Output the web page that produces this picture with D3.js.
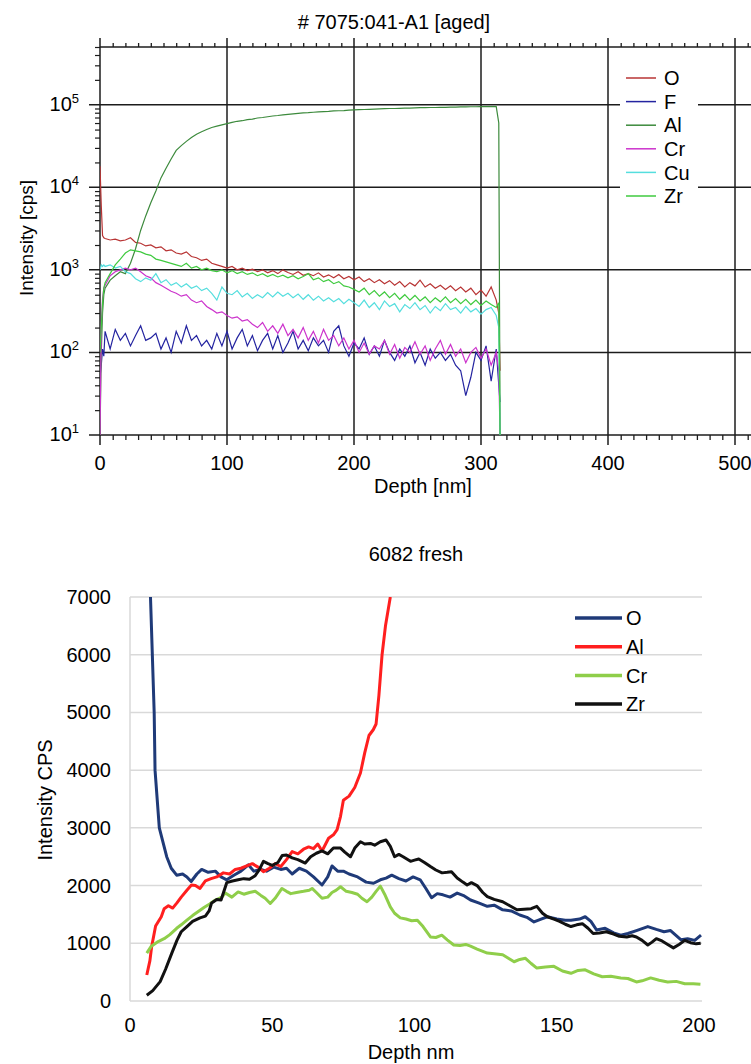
<!DOCTYPE html>
<html>
<head>
<meta charset="utf-8">
<script src="https://cdn.jsdelivr.net/npm/d3@7"></script>
<style>
  body { margin: 0; background: #fff; }
  svg { display: block; font-family: "Liberation Sans", Arial, sans-serif; }
</style>
</head>
<body>
<svg id="chart" width="751" height="1064"></svg>
<script>
// ---------- top chart: 7075 aged (log intensity vs depth) ----------
var topDepth = [0, 1, 2, 3,
  4, 8, 12, 16, 20, 24, 28, 32, 36, 40, 44, 48, 52, 56, 60, 64, 68, 72, 76, 80,
  84, 88, 92, 96, 100, 104, 108, 112, 116, 120, 124, 128, 132, 136, 140, 144, 148, 152, 156, 160,
  164, 168, 172, 176, 180, 184, 188, 192, 196, 200, 204, 208, 212, 216, 220, 224, 228, 232, 236, 240,
  244, 248, 252, 256, 260, 264, 268, 272, 276, 280, 284, 288, 292, 296, 300, 304, 308, 312,
  314, 315];

var topO = [18000, 6000, 2600, 2450,
  2400, 2300, 2350, 2250, 2300, 2450, 2150, 2100, 1950, 2000, 1850, 1900, 1700, 1750, 1600, 1550, 1650, 1450, 1400, 1300,
  1350, 1200, 1150, 1100, 1050, 1100, 1000, 1050, 980, 1020, 950, 1000, 920, 980, 900, 1000, 930, 880, 950, 860,
  900, 850, 920, 820, 870, 800, 880, 780, 830, 760, 820, 720, 780, 700, 760, 680, 740, 650, 720, 620,
  700, 640, 750, 620, 680, 600, 650, 580, 640, 560, 620, 540, 600, 500, 570, 480, 620, 430,
  300, 60];

var topF = [50, 70, 110, 90,
  180, 110, 190, 140, 170, 120, 160, 210, 140, 150, 170, 110, 150, 100, 180, 130, 210, 140, 160, 120,
  140, 110, 170, 120, 180, 110, 150, 190, 120, 160, 105, 140, 170, 110, 160, 100, 130, 180, 110, 140,
  105, 150, 120, 140, 100, 180, 210, 120, 90, 130, 110, 150, 95, 120, 90, 140, 100, 80, 110, 90,
  120, 75, 100, 70, 110, 85, 100, 80, 95, 70, 60, 30, 50, 100, 80, 120, 45, 110,
  40, 25];

var topAl = [10, 100, 300, 500,
  600, 750, 850, 950, 900, 1200, 1800, 3000, 4500, 6500, 9000, 13000, 17000, 22000, 28000, 32000, 36000, 40000, 44000, 47000,
  50000, 53000, 55000, 57000, 59000, 61000, 63000, 64000, 66000, 67000, 69000, 70000, 71500, 73000, 74000, 75500, 76500, 77500, 78500, 79500,
  80000, 81000, 82000, 82500, 83000, 84000, 84500, 85000, 86000, 86500, 87000, 87500, 88000, 88500, 89000, 89500, 90000, 90000, 90500, 91000,
  91000, 91500, 92000, 92000, 92500, 92500, 93000, 93000, 93500, 93500, 94000, 94000, 94500, 94500, 95000, 95000, 95000, 95000,
  60000, 10];

var topCr = [10, 200, 450, 600,
  650, 850, 950, 1000, 1050, 1000, 1050, 950, 850, 800, 700, 650, 600, 550, 520, 480, 500, 430, 400, 420,
  360, 330, 300, 310, 280, 260, 270, 240, 250, 220, 200, 230, 180, 210, 170, 220, 160, 190, 150, 200,
  140, 180, 130, 190, 140, 160, 120, 150, 110, 140, 100, 130, 95, 120, 110, 140, 95, 125, 85, 115,
  100, 135, 95, 120, 80, 110, 140, 95, 125, 90, 110, 75, 100, 115, 85, 110, 70, 100,
  60, 10];

var topCu = [1000, 1150, 1100, 1150,
  1100, 1150, 1050, 1100, 950, 900, 780, 720, 800, 750, 900, 700, 760, 650, 700, 620, 680, 600, 640, 560,
  600, 520, 430, 620, 520, 500, 560, 470, 520, 450, 500, 460, 530, 470, 540, 480, 520, 460, 510, 440,
  500, 430, 480, 420, 460, 410, 450, 390, 440, 400, 360, 430, 350, 400, 330, 420, 360, 390, 310, 380,
  340, 400, 330, 370, 300, 360, 320, 390, 330, 350, 300, 360, 310, 340, 290, 330, 350, 280,
  200, 10];

var topZr = [100, 200, 400, 600,
  700, 900, 1150, 1350, 1600, 1750, 1700, 1650, 1550, 1500, 1350, 1300, 1250, 1200, 1150, 1100, 1200, 1050, 1100, 1000,
  1050, 980, 950, 1000, 920, 980, 900, 950, 880, 920, 850, 900, 830, 880, 820, 860, 800, 850, 780, 830,
  900, 760, 800, 720, 760, 680, 720, 640, 620, 580, 540, 600, 500, 560, 480, 540, 460, 520, 440, 500,
  430, 490, 420, 470, 400, 460, 410, 470, 400, 450, 390, 440, 380, 430, 370, 420, 380, 350,
  400, 10];

var topSeries = [
  {name: "O",  values: topO,  color: "#b83434"},
  {name: "F",  values: topF,  color: "#2424a0"},
  {name: "Al", values: topAl, color: "#3c8a3c"},
  {name: "Cr", values: topCr, color: "#cc33cc"},
  {name: "Cu", values: topCu, color: "#55dede"},
  {name: "Zr", values: topZr, color: "#3fca3f"}
];

// ---------- bottom chart: 6082 fresh (linear intensity vs depth) ----------
var botODepth = [7.2, 8.5, 8.8, 10.3, 12.9, 14.5, 16.4, 18.5, 20, 21.5, 23.5, 25.2, 27.5, 30, 32, 34, 36.5, 39, 41.6, 43.5,
  46, 48, 50.5, 53, 55, 57, 59.5, 62, 64.5, 67.5, 69.5, 71, 73, 75, 77, 80, 83, 85.6, 88, 90,
  92, 94.5, 97, 99.5, 102, 104, 106, 108, 110, 112.5, 115, 117.5, 119.7, 122.5, 125.6, 128, 131, 134, 137, 139.5,
  142, 144.5, 146.7, 150, 153, 155, 158, 160, 162, 164, 167, 170, 172.5, 175, 178, 182, 185, 187.7, 190, 193.7,
  196, 198.5, 200.7];
var botO = [7000, 5000, 4000, 3000, 2500, 2300, 2180, 2200, 2150, 2070, 2200, 2280, 2230, 2250, 2150, 2100, 2180, 2250, 2360, 2250,
  2280, 2250, 2320, 2280, 2300, 2200, 2300, 2250, 2150, 2010, 2150, 2340, 2250, 2250, 2200, 2150, 2060, 2040, 2100, 2130,
  2180, 2120, 2080, 2150, 2100, 1950, 1790, 1860, 1840, 1800, 1870, 1820, 1750, 1700, 1640, 1660, 1580, 1560, 1490, 1450,
  1370, 1420, 1460, 1420, 1400, 1400, 1420, 1460, 1380, 1230, 1260, 1180, 1140, 1170, 1220, 1290, 1240, 1200, 1220, 1060,
  1080, 1050, 1140];

var botAlDepth = [5.9, 7, 7.6, 9, 11, 12, 13.5, 15, 16.5, 18, 20, 21.6, 23, 24.6, 26.5, 28.5, 30.5, 32.8, 35, 37,
  39, 41, 43, 45, 46.9, 49, 51, 53, 55, 57, 59, 61, 62.8, 64.5, 66, 67.5, 69.8, 71.5, 72.8, 74,
  75, 77, 79, 81, 82.5, 84, 85.5, 86.5, 87.5, 88.6, 89.8, 91.5];
var botAl = [450, 700, 940, 1300, 1460, 1600, 1650, 1610, 1700, 1800, 1920, 2010, 2000, 1950, 2080, 2120, 2150, 2220, 2200, 2280,
  2300, 2340, 2380, 2320, 2240, 2300, 2380, 2330, 2450, 2590, 2550, 2630, 2670, 2640, 2720, 2600, 2820, 2880, 2970, 3200,
  3480, 3550, 3700, 3950, 4300, 4600, 4700, 4800, 5300, 6000, 6500, 7000];

var botCrDepth = [5.9, 7.5, 9.9, 12, 14, 16.4, 18, 20, 22, 24, 26, 28, 30, 32.3, 33.5, 35.8, 38, 40, 42, 44,
  46, 47.5, 49.3, 51, 53.4, 55, 56.5, 58.5, 61, 63, 64, 65.5, 67.5, 69.5, 71, 72.5, 74, 76, 78, 80,
  81.5, 83.3, 85, 86.5, 88, 89.5, 91.5, 93, 95, 97, 99, 101, 103, 105.6, 107.5, 109.6, 111.5, 113.8, 116, 118,
  119.7, 122, 125.6, 128, 131, 133, 135, 137, 139, 141, 143, 146, 149, 152, 155, 157.5, 160, 163, 166, 169,
  172.5, 175, 178, 180, 183, 186, 189, 192, 195, 198, 200.5];
var botCr = [830, 950, 1030, 1080, 1150, 1260, 1320, 1400, 1480, 1550, 1620, 1680, 1750, 1800, 1870, 1800, 1890, 1850, 1880, 1900,
  1830, 1780, 1690, 1780, 1950, 1900, 1860, 1880, 1900, 1920, 1950, 1880, 1780, 1800, 1880, 1920, 1980, 1900, 1880, 1850,
  1780, 1720, 1800, 1900, 1990, 1850, 1630, 1520, 1440, 1420, 1390, 1400, 1290, 1110, 1100, 1140, 1060, 970, 960, 980,
  950, 900, 830, 820, 800, 740, 680, 720, 740, 650, 570, 590, 600, 520, 480, 530, 540, 470, 420, 430,
  400, 390, 330, 350, 400, 360, 330, 340, 300, 300, 290];

var botZrDepth = [5.9, 8, 10.6, 12.5, 14.7, 16.5, 18, 20, 22, 24.6, 26.5, 27.8, 28.7, 30.5, 32, 34, 36, 38, 40, 42,
  44, 45.5, 46.9, 48.5, 50, 52, 53.5, 55, 57, 59, 61.6, 63.5, 65.5, 67.5, 69.5, 71.5, 74, 75.5, 77.5, 79,
  81, 82.5, 84.5, 86, 88, 90, 91.5, 93, 94.5, 96, 98.6, 100, 101.5, 103.5, 105.6, 107.5, 109.7, 111.5, 113, 115,
  117, 118.5, 120, 122, 124, 125.6, 128, 131, 133.5, 136, 138.5, 141, 143, 145, 146.7, 149, 151, 153, 155, 157,
  159, 161, 162.8, 165, 167.4, 170, 172, 174.6, 176.5, 178, 180, 182, 183.5, 185, 187, 189, 191, 193, 195, 197,
  199, 200.6];
var botZr = [100, 180, 335, 550, 830, 1050, 1200, 1290, 1380, 1440, 1470, 1560, 1700, 1760, 1750, 2050, 2080, 2100, 2120, 2110,
  2170, 2280, 2420, 2380, 2350, 2400, 2520, 2530, 2480, 2450, 2390, 2500, 2560, 2600, 2550, 2650, 2650, 2580, 2500, 2650,
  2760, 2720, 2730, 2700, 2760, 2790, 2680, 2500, 2540, 2500, 2420, 2440, 2460, 2400, 2330, 2270, 2220, 2230, 2240, 2130,
  2060, 2010, 2050, 2000, 1880, 1810, 1760, 1720, 1650, 1580, 1590, 1600, 1640, 1520, 1460, 1420, 1380, 1330, 1290, 1320,
  1340, 1260, 1170, 1180, 1200, 1160, 1120, 1110, 1130, 1110, 1050, 970, 1020, 1080, 1040, 980, 920, 980, 1050, 1010,
  990, 1000];

var botSeries = [
  {name: "O",  depth: botODepth,  values: botO,  color: "#1f3a78"},
  {name: "Al", depth: botAlDepth, values: botAl, color: "#ff1f1f"},
  {name: "Cr", depth: botCrDepth, values: botCr, color: "#8fce4a"},
  {name: "Zr", depth: botZrDepth, values: botZr, color: "#111111"}
];

var topXTicks = [0, 100, 200, 300, 400, 500];
var topYTicks = [10, 100, 1000, 10000, 100000];
var botXTicks = [0, 50, 100, 150, 200];
var botYTicks = [0, 1000, 2000, 3000, 4000, 5000, 6000, 7000];

var svg = d3.select("#chart");
var ink = "#1c1c1c";

// ===== top chart =====
var gTop = svg.append("g");
var tx = d3.scaleLinear().domain([0, 500]).range([100, 735]);
var ty = d3.scaleLog().domain([10, 500000]).range([435, 47]);
var tRight = 751;

gTop.append("text")
  .attr("x", 394).attr("y", 29)
  .attr("text-anchor", "middle").style("font-size", "20px")
  .text("# 7075:041-A1 [aged]");

// minor ticks top / bottom (every 10 nm)
var minorX = d3.range(10, 520, 10).filter(function (d) { return d % 100 !== 0; });
gTop.append("g").attr("transform", "translate(0,47)")
  .call(d3.axisTop(tx).tickValues(minorX).tickSize(4).tickFormat(""))
  .call(function (g) { g.select(".domain").remove(); g.selectAll("line").attr("stroke", ink).attr("stroke-width", 1.3); });
gTop.append("g").attr("transform", "translate(0,435)")
  .call(d3.axisBottom(tx).tickValues(minorX).tickSize(5).tickFormat(""))
  .call(function (g) { g.select(".domain").remove(); g.selectAll("line").attr("stroke", ink).attr("stroke-width", 1.3); });

// minor ticks left (log)
var minorY = [];
[10, 100, 1000, 10000, 100000].forEach(function (p) {
  for (var k = 2; k <= 9; k++) { if (p * k <= 500000) minorY.push(p * k); }
});
gTop.append("g").attr("transform", "translate(100,0)")
  .call(d3.axisLeft(ty).tickValues(minorY).tickSize(5).tickFormat(""))
  .call(function (g) { g.select(".domain").remove(); g.selectAll("line").attr("stroke", ink).attr("stroke-width", 1.2); });

// frame lines
gTop.append("line").attr("x1", 100).attr("x2", tRight).attr("y1", 47).attr("y2", 47)
  .attr("stroke", ink).attr("stroke-width", 1.5);
gTop.append("line").attr("x1", 89).attr("x2", tRight).attr("y1", 435).attr("y2", 435)
  .attr("stroke", ink).attr("stroke-width", 1.5);

// grid
gTop.selectAll(".vgrid").data(topXTicks).enter().append("line")
  .attr("x1", tx).attr("x2", tx).attr("y1", 38).attr("y2", 445)
  .attr("stroke", ink).attr("stroke-width", 1.5);
gTop.selectAll(".hgrid").data(topYTicks.slice(1)).enter().append("line")
  .attr("x1", 89).attr("x2", tRight)
  .attr("y1", ty).attr("y2", ty)
  .attr("stroke", ink).attr("stroke-width", 1.5);

// tick labels
gTop.selectAll(".xlab").data(topXTicks).enter().append("text")
  .attr("x", tx).attr("y", 470)
  .attr("text-anchor", "middle").style("font-size", "20px")
  .text(function (d) { return d; });
var ylab = gTop.selectAll(".ylab").data(topYTicks).enter().append("text")
  .attr("x", 79).attr("y", function (d) { return ty(d) + 6; })
  .attr("text-anchor", "end").style("font-size", "20px");
ylab.append("tspan").text("10");
ylab.append("tspan").attr("dy", -8).style("font-size", "13px")
  .text(function (d) { return Math.round(Math.log10(d)); });

gTop.append("text")
  .attr("x", 423).attr("y", 493)
  .attr("text-anchor", "middle").style("font-size", "20px")
  .text("Depth [nm]");
gTop.append("text")
  .attr("transform", "translate(33,238) rotate(-90)")
  .attr("text-anchor", "middle").style("font-size", "19px")
  .text("Intensity [cps]");

// series
gTop.append("clipPath").attr("id", "clipTop")
  .append("rect").attr("x", 100).attr("y", 47).attr("width", tRight - 100).attr("height", 388);
var tLine = d3.line()
  .x(function (d) { return tx(d[0]); })
  .y(function (d) { return ty(d[1]); });
gTop.append("g").attr("clip-path", "url(#clipTop)")
  .selectAll("path").data(topSeries).enter().append("path")
  .attr("d", function (s) { return tLine(d3.zip(topDepth, s.values)); })
  .attr("fill", "none")
  .attr("stroke", function (s) { return s.color; })
  .attr("stroke-width", 1.2);

// legend
var tLeg = gTop.append("g");
tLeg.append("rect").attr("x", 620).attr("y", 63).attr("width", 78).attr("height", 146).attr("fill", "#fff");
var tItem = tLeg.selectAll("g").data(topSeries).enter().append("g")
  .attr("transform", function (d, i) { return "translate(0," + (78 + i * 23.6) + ")"; });
tItem.append("line").attr("x1", 626).attr("x2", 656)
  .attr("stroke", function (d) { return d.color; }).attr("stroke-width", 1.5);
tItem.append("text").attr("x", 664).attr("dy", "0.36em").style("font-size", "20px")
  .text(function (d) { return d.name; });

// ===== bottom chart =====
var gBot = svg.append("g");
var bx = d3.scaleLinear().domain([0, 200]).range([130, 699]);
var by = d3.scaleLinear().domain([0, 7000]).range([1001, 597]);

gBot.append("text")
  .attr("x", 416).attr("y", 561)
  .attr("text-anchor", "middle").style("font-size", "20px")
  .text("6082 fresh");

gBot.selectAll(".grid").data(botYTicks).enter().append("line")
  .attr("x1", 130).attr("x2", 702)
  .attr("y1", by).attr("y2", by)
  .attr("stroke", "#d9d9d9").attr("stroke-width", 1.5);
gBot.append("line").attr("x1", 130).attr("x2", 130).attr("y1", 597).attr("y2", 1001)
  .attr("stroke", "#d9d9d9").attr("stroke-width", 1.5);

gBot.selectAll(".ylab").data(botYTicks).enter().append("text")
  .attr("x", 111).attr("y", function (d) { return by(d) + 7; })
  .attr("text-anchor", "end").style("font-size", "20px")
  .text(function (d) { return d; });
gBot.selectAll(".xlab").data(botXTicks).enter().append("text")
  .attr("x", bx).attr("y", 1032)
  .attr("text-anchor", "middle").style("font-size", "20px")
  .text(function (d) { return d; });

gBot.append("text")
  .attr("x", 411).attr("y", 1059)
  .attr("text-anchor", "middle").style("font-size", "20px")
  .text("Depth nm");
gBot.append("text")
  .attr("transform", "translate(52,800) rotate(-90)")
  .attr("text-anchor", "middle").style("font-size", "20px")
  .text("Intensity CPS");

gBot.append("clipPath").attr("id", "clipBot")
  .append("rect").attr("x", 130).attr("y", 597).attr("width", 572).attr("height", 404);
var bLine = d3.line()
  .x(function (d) { return bx(d[0]); })
  .y(function (d) { return by(d[1]); });
gBot.append("g").attr("clip-path", "url(#clipBot)")
  .selectAll("path").data(botSeries).enter().append("path")
  .attr("d", function (s) { return bLine(d3.zip(s.depth, s.values)); })
  .attr("fill", "none")
  .attr("stroke", function (s) { return s.color; })
  .attr("stroke-width", 3)
  .attr("stroke-linejoin", "round");

var bItem = gBot.append("g").selectAll("g").data(botSeries).enter().append("g")
  .attr("transform", function (d, i) { return "translate(0," + (618 + i * 28.7) + ")"; });
bItem.append("line").attr("x1", 575).attr("x2", 622)
  .attr("stroke", function (d) { return d.color; }).attr("stroke-width", 3.5);
bItem.append("text").attr("x", 626).attr("dy", "0.36em").style("font-size", "20px")
  .text(function (d) { return d.name; });
</script>
</body>
</html>
